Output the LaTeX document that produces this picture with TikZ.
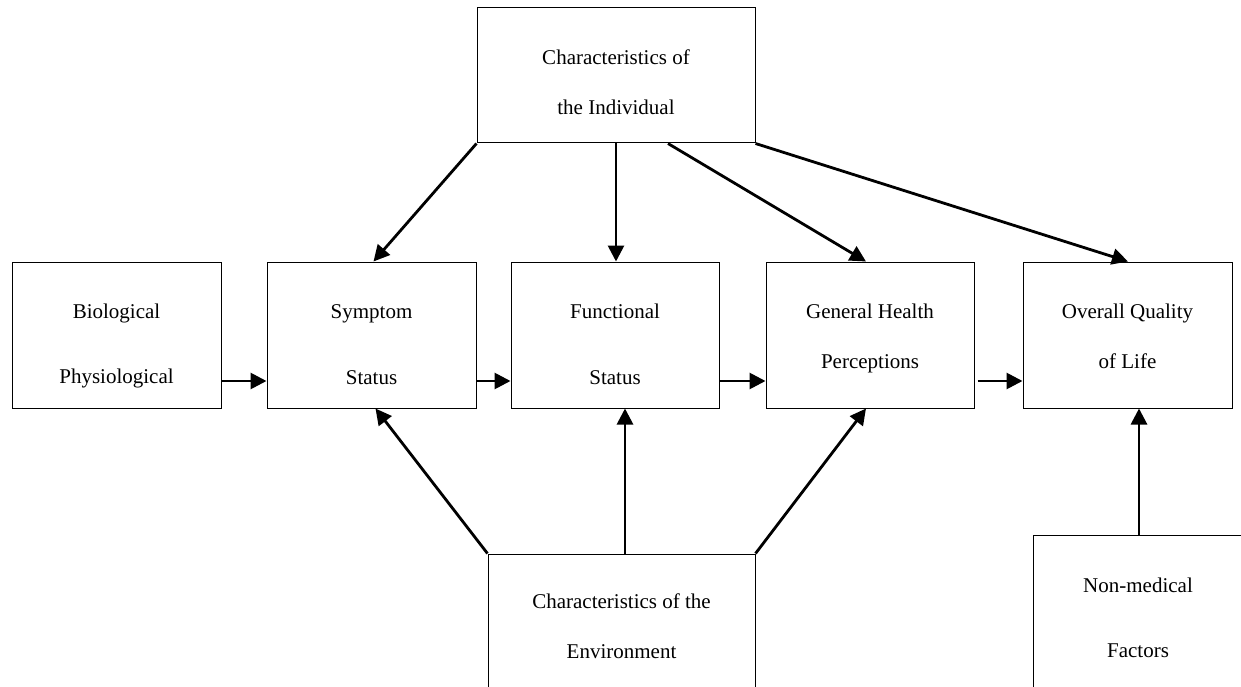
\documentclass[tikz,border=0pt]{standalone}
\usepackage{fontspec}
\setmainfont{Liberation Serif}
\usetikzlibrary{arrows.meta}
\begin{document}
\begin{tikzpicture}[x=1pt,y=-1pt,
  box/.style={draw=black,line width=1pt,inner sep=0pt,rectangle},
  lbl/.style={anchor=base,inner sep=0pt,font=\fontsize{21}{25}\selectfont},
  arr/.style={line width=2.8pt,-{Triangle[length=16pt,width=16pt]}}]
\useasboundingbox (0,0) rectangle (1241,687);
\clip (0,0) rectangle (1241,687);
% boxes
\node[box,minimum width=278pt,minimum height=135pt] (ind) at (616,75.5) {};
\node[box,minimum width=209pt,minimum height=146pt] (bio) at (116.5,335) {};
\node[box,minimum width=209pt,minimum height=146pt] (sym) at (371.5,335) {};
\node[box,minimum width=208pt,minimum height=146pt] (fun) at (615,335) {};
\node[box,minimum width=208pt,minimum height=146pt] (gen) at (870,335) {};
\node[box,minimum width=209pt,minimum height=146pt] (ovr) at (1127.5,335) {};
\node[box,minimum width=267pt,minimum height=300pt] (env) at (621.5,704) {};
\node[box,minimum width=210pt,minimum height=300pt] (non) at (1138,685) {};
% labels
\node[lbl] (ind1) at (616,65) {Characteristics of};
\node[lbl] (ind2) at (616,115) {the Individual};
\node[lbl] (bio1) at (116.5,318) {Biological};
\node[lbl] (bio2) at (116.5,383) {Physiological};
\node[lbl] (sym1) at (371.5,318) {Symptom};
\node[lbl] (sym2) at (371.5,384) {Status};
\node[lbl] (fun1) at (615,318) {Functional};
\node[lbl] (fun2) at (615,384) {Status};
\node[lbl] (gen1) at (870,318) {General Health};
\node[lbl] (gen2) at (870,368) {Perceptions};
\node[lbl] (ovr1) at (1127.5,318) {Overall Quality};
\node[lbl] (ovr2) at (1127.5,368) {of Life};
\node[lbl] (env1) at (621.5,608) {Characteristics of the};
\node[lbl] (env2) at (621.5,658) {Environment};
\node[lbl] (non1) at (1138,592) {Non-medical};
\node[lbl] (non2) at (1138,657) {Factors};
% horizontal arrows
\draw[arr] ([yshift=-46pt]bio.east) -- ([yshift=-46pt]sym.west);
\draw[arr] ([yshift=-46pt]sym.east) -- ([yshift=-46pt]fun.west);
\draw[arr] ([yshift=-46pt]fun.east) -- ([yshift=-46pt]gen.west);
\draw[arr] ([yshift=-46pt,xshift=3pt]gen.east) -- ([yshift=-46pt]ovr.west);
% from individual
\draw[arr] (ind.south west) -- ([xshift=2pt]sym.north);
\draw[arr] (ind.south) -- (ind.south |- fun.north);
\draw[arr] ([xshift=52pt]ind.south) -- ([xshift=-4pt]gen.north);
\draw[arr] (ind.south east) -- ([xshift=0.5pt]ovr.north);
% from environment
\draw[arr] (env.north west) -- ([xshift=4pt]sym.south);
\draw[arr] ([xshift=3.5pt]env.north) -- ([xshift=3.5pt]env.north |- fun.south);
\draw[arr] (env.north east) -- ([xshift=-4pt]gen.south);
% non-medical
\draw[arr] ([xshift=1pt]non.north) -- ([xshift=1pt]non.north |- ovr.south);
\end{tikzpicture}
\end{document}
